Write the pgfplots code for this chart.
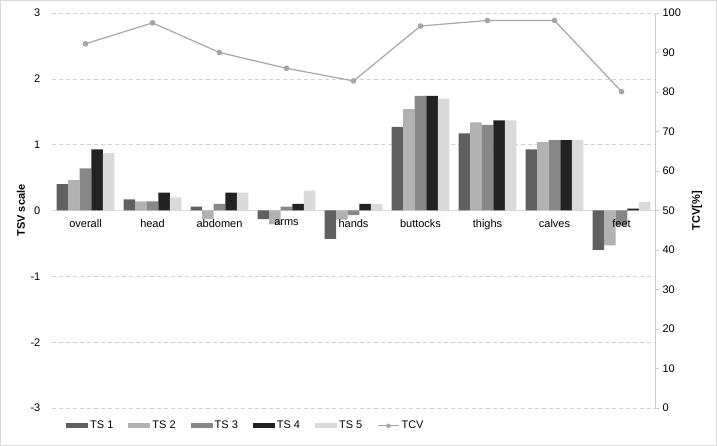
\documentclass[border=0pt]{standalone}
\usepackage{pgfplots}
\pgfplotsset{compat=1.18}
\usepackage{fontspec}
\setmainfont{Liberation Sans}
\definecolor{tsA}{HTML}{606060}
\definecolor{tsB}{HTML}{B2B2B2}
\definecolor{tsC}{HTML}{888888}
\definecolor{tsD}{HTML}{222222}
\definecolor{tsE}{HTML}{DADADA}
\definecolor{tcvc}{HTML}{A6A6A6}
\begin{document}
\begin{tikzpicture}[font=\fontsize{11}{13}\selectfont]
\pgfplotsset{every axis/.append style={scale only axis, width=603pt, height=395pt, xmin=-0.5, xmax=8.5}}
\begin{axis}[
  set layers,
  ybar=0pt, bar width=0.173,
  ymin=-3, ymax=3, ytick={-3,-2,-1,0,1,2,3},
  yticklabels={-3,-2,-1,0,1,2,3},
  axis x line=middle, axis y line=left,
  x axis line style={draw=gray!30, -, line width=0.8pt},
  y axis line style={draw=none},
  xtick={0,...,8},
  xticklabels={overall,head,abdomen,arms,hands,buttocks,thighs,calves,feet},
  xtick style={draw=none}, ytick style={draw=none},
  yticklabel style={xshift=-6pt},
  xticklabel style={yshift=-3pt, /pgfplots/on layer=axis foreground},
  ymajorgrids, grid style={gray!35, dash pattern=on 4pt off 3pt, line width=0.6pt},
  every axis y label/.style={at={(axis description cs:0,0.5)}, xshift=-31pt, rotate=90, anchor=center},
  ylabel={\bfseries TSV scale},
  legend columns=6,
  legend style={draw=none, at={(0,0)}, anchor=north west, xshift=11pt, yshift=-9pt,
    /tikz/every even column/.append style={column sep=13pt}},
  legend image code/.code={\fill[#1] (0pt,-2.5pt) rectangle (22pt,2.5pt);},
]
\addplot[fill=tsA, draw=none] coordinates {(0,0.40) (1,0.17) (2,0.06) (3,-0.13) (4,-0.43) (5,1.27) (6,1.17) (7,0.93) (8,-0.60)};
\addlegendentry{TS 1}
\addplot[fill=tsB, draw=none] coordinates {(0,0.46) (1,0.14) (2,-0.13) (3,-0.21) (4,-0.14) (5,1.54) (6,1.34) (7,1.04) (8,-0.53)};
\addlegendentry{TS 2}
\addplot[fill=tsC, draw=none] coordinates {(0,0.64) (1,0.14) (2,0.10) (3,0.06) (4,-0.07) (5,1.74) (6,1.30) (7,1.07) (8,-0.23)};
\addlegendentry{TS 3}
\addplot[fill=tsD, draw=none] coordinates {(0,0.93) (1,0.27) (2,0.27) (3,0.10) (4,0.10) (5,1.74) (6,1.37) (7,1.07) (8,0.03)};
\addlegendentry{TS 4}
\addplot[fill=tsE, draw=none] coordinates {(0,0.87) (1,0.20) (2,0.27) (3,0.30) (4,0.10) (5,1.70) (6,1.37) (7,1.07) (8,0.13)};
\addlegendentry{TS 5}
\addlegendimage{legend image code/.code={\draw[tcvc, line width=1.2pt] (0pt,0pt) -- (21pt,0pt); \fill[tcvc] (10.5pt,0pt) circle (2pt);}}
\addlegendentry{TCV}
\end{axis}
\begin{axis}[
  ymin=0, ymax=100, ytick={0,10,20,30,40,50,60,70,80,90,100},
  yticklabels={0,10,20,30,40,50,60,70,80,90,100},
  axis y line*=right, axis x line=none, xtick=\empty,
  y axis line style={draw=gray!40, line width=0.8pt, -},
  ytick style={draw=gray!40, line width=0.8pt},
  tick align=outside, major tick length=4pt,
  every axis y label/.style={at={(axis description cs:1,0.5)}, xshift=42pt, rotate=90, anchor=center},
  ylabel={\bfseries TCV[\%]},
]
\addplot[tcvc, line width=1.2pt, mark=*, mark size=2.2pt, mark options={fill=tcvc, draw=tcvc}] coordinates {(0,92.2) (1,97.5) (2,90.0) (3,86.0) (4,82.8) (5,96.7) (6,98.1) (7,98.1) (8,80.1)};
\end{axis}
\draw[gray!30, line width=0.8pt] (-51.6pt,-37.6pt) rectangle (664.6pt,407.6pt);
\end{tikzpicture}
\end{document}
